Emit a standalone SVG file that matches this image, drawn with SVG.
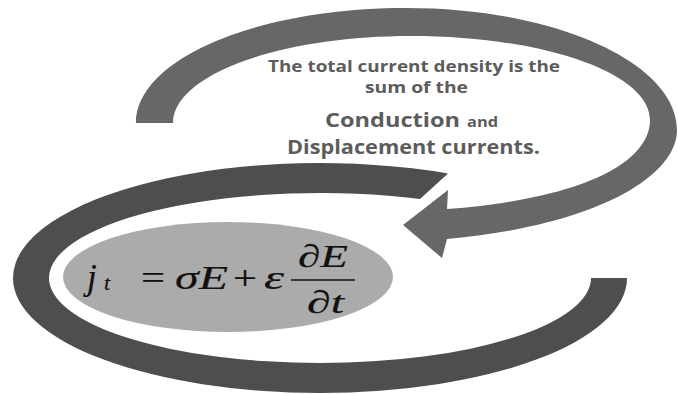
<svg xmlns="http://www.w3.org/2000/svg" width="678" height="394" viewBox="0 0 678 394">
  <style>
    .cap { font-family: "Open Sans", "Liberation Sans", sans-serif; font-weight: 700; fill: #5c5c5c; }
    .m { font-family: "Liberation Serif", "DejaVu Serif", serif; fill: #111111; stroke: #111111; stroke-width: 0.2; }
    .mi { font-family: "Liberation Serif", "DejaVu Serif", serif; font-style: italic; fill: #111111; stroke: #111111; stroke-width: 0.2; }
  </style>
  <rect width="678" height="394" fill="#ffffff"/>
  <g id="connectors">
    <path id="upper-arrow" fill="#676767"
      d="M136,123 C136,59 257,8 406,8 C556,8 677,63 677,130 C677,175 600,225 447,239 L442,258 L403,225 L448,190 L447,209 C590,198 650,160 650,120 C650,73 543,36 411,36 C279,36 173,75 173,123 Z"/>
    <path id="lower-arc" fill="#4e4e4e"
      d="M448,173.5 A307,115 0 0 0 13,278 A307,115 0 0 0 627,278 L591,278 A271,85 0 0 1 49,278 A271,85 0 0 1 420,199 Z"/>
  </g>
  <g id="formula-node">
    <ellipse cx="228" cy="277" rx="165" ry="55" fill="#ababab"/>
    <text class="mi" x="87" y="289" font-size="35">j</text>
    <text class="mi" x="104" y="290" font-size="22">t</text>
    <text class="m" x="141" y="289" font-size="34" textLength="24" lengthAdjust="spacingAndGlyphs">=</text>
    <text class="mi" x="175" y="289" font-size="34" textLength="53" lengthAdjust="spacingAndGlyphs">σE</text>
    <text class="m" x="233" y="289" font-size="34" textLength="24" lengthAdjust="spacingAndGlyphs">+</text>
    <text class="mi" x="264" y="289" font-size="34" textLength="20" lengthAdjust="spacingAndGlyphs">ε</text>
    <text class="mi" x="298" y="267" font-size="32" textLength="50" lengthAdjust="spacingAndGlyphs">∂E</text>
    <line x1="291" y1="280" x2="355" y2="280" stroke="#111111" stroke-width="1.6"/>
    <text class="mi" x="307" y="313" font-size="32" textLength="37" lengthAdjust="spacingAndGlyphs">∂t</text>
  </g>
  <g id="text-node">
    <text class="cap" x="268" y="71.5" font-size="15.5" textLength="292" lengthAdjust="spacingAndGlyphs">The total current density is the</text>
    <text class="cap" x="365" y="93" font-size="15.5" textLength="103" lengthAdjust="spacingAndGlyphs">sum of the</text>
    <text class="cap" x="325" y="127" font-size="19" textLength="135" lengthAdjust="spacingAndGlyphs">Conduction</text>
    <text class="cap" x="467" y="127" font-size="15" textLength="31" lengthAdjust="spacingAndGlyphs">and</text>
    <text class="cap" x="287" y="154" font-size="19" textLength="253" lengthAdjust="spacingAndGlyphs">Displacement currents.</text>
  </g>
</svg>
